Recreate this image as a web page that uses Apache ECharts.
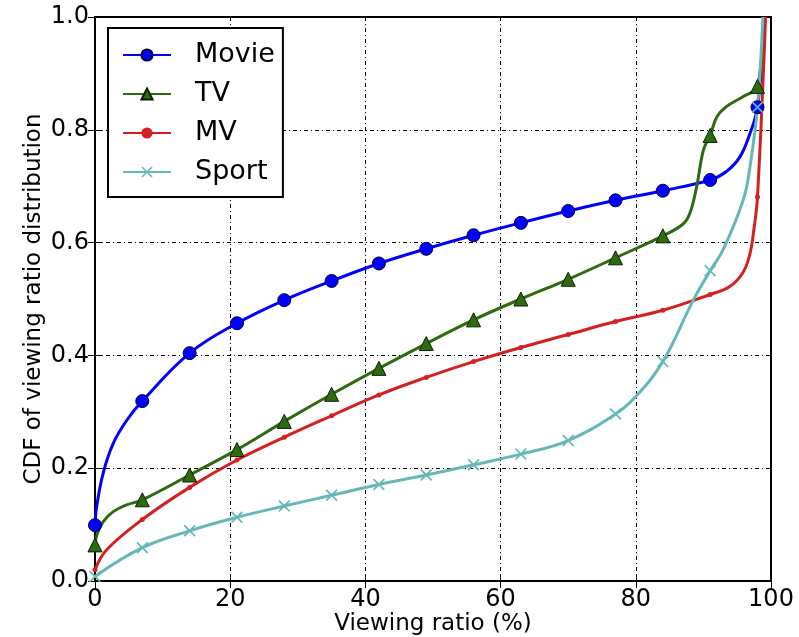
<!DOCTYPE html>
<html>
<head>
<meta charset="utf-8">
<script src="https://cdn.jsdelivr.net/npm/echarts@6/dist/echarts.min.js"></script>
<style>
  html, body { margin: 0; padding: 0; background: #fff; }
  #chart { width: 799px; height: 637px; }
</style>
</head>
<body>
<div id="chart"></div>
<script>
// values (x = viewing ratio %, y = CDF)
var movieX = [0, 0.25, 1.2, 2.7, 4.7, 7, 14, 21, 28, 35, 42, 49, 56, 63, 70, 77, 84, 91, 93.4, 95.4, 96.9, 98, 99.1];
var movieY = [0.099, 0.132, 0.191, 0.244, 0.285, 0.319, 0.404, 0.457, 0.498, 0.532, 0.563, 0.589, 0.613, 0.635, 0.656, 0.675, 0.692, 0.711, 0.726, 0.752, 0.794, 0.84, 1.0];

var tvX = [0, 0.3, 1.2, 2.7, 4.7, 7, 14, 21, 28, 35, 42, 49, 56, 63, 70, 77, 84, 87, 88, 89, 90, 91, 92, 93.4, 95.9, 98, 98.9];
var tvY = [0.064, 0.083, 0.105, 0.123, 0.135, 0.144, 0.188, 0.233, 0.283, 0.331, 0.377, 0.421, 0.463, 0.5, 0.535, 0.573, 0.612, 0.633, 0.652, 0.699, 0.764, 0.79, 0.823, 0.841, 0.859, 0.877, 1.0];

var mvX = [0, 1.7, 7, 14, 21, 28, 35, 42, 49, 56, 63, 70, 77, 84, 91, 93.9, 95.9, 96.9, 97.4, 98, 99.2];
var mvY = [0.02, 0.055, 0.109, 0.166, 0.2145, 0.255, 0.293, 0.33, 0.361, 0.389, 0.414, 0.437, 0.46, 0.48, 0.508, 0.522, 0.548, 0.581, 0.617, 0.681, 1.0];

var sportX = [0, 7, 14, 21, 28, 35, 42, 49, 56, 63, 70, 77, 80, 84, 88.5, 91, 92.9, 95.9, 96.9, 98, 98.8];
var sportY = [0.008, 0.059, 0.089, 0.113, 0.133, 0.152, 0.171, 0.188, 0.206, 0.225, 0.249, 0.296, 0.327, 0.389, 0.498, 0.55, 0.587, 0.676, 0.735, 0.84, 1.0];

var xTicks = [0, 20, 40, 60, 80, 100];
var yTicks = [0.0, 0.2, 0.4, 0.6, 0.8, 1.0];

var xMark = 'path://M0,1L1,0L5,4L9,0L10,1L6,5L10,9L9,10L5,6L1,10L0,9L4,5Z';

// only every 7th % gets a marker, like the original
function pts(xs, ys) {
  var out = [];
  for (var i = 0; i < xs.length; i++) {
    var item = { value: [xs[i], ys[i]] };
    if (xs[i] % 7 !== 0) item.symbol = 'none';
    out.push(item);
  }
  return out;
}

var font = 'DejaVu Sans';
var myChart = echarts.init(document.getElementById('chart'));

function mkSeries(name, xs, ys, color, symbol, size, border) {
  return {
    name: name,
    type: 'line',
    data: pts(xs, ys),
    smooth: 0.4,
    showAllSymbol: true,
    symbol: symbol,
    symbolSize: size,
    lineStyle: { color: color, width: 3 },
    itemStyle: { color: color, borderColor: border, borderWidth: border ? 1 : 0 },
    emphasis: { disabled: true },
    z: 3
  };
}

var gridLine = { show: true, lineStyle: { color: '#000', width: 1, type: [4, 3, 1, 3] } };
var tick = { show: true, inside: true, length: 7, lineStyle: { color: '#000', width: 1 } };

var option = {
  backgroundColor: '#fff',
  animation: false,
  textStyle: { fontFamily: font },
  grid: {
    left: 95, right: 28, top: 17, bottom: 56,
    outerBoundsMode: 'none',
    show: true, borderColor: '#000', borderWidth: 2, backgroundColor: 'transparent'
  },
  legend: {
    orient: 'vertical',
    left: 108,
    top: 28,
    padding: [11, 8, 9, 14],
    itemWidth: 48,
    itemHeight: 14,
    itemGap: 7,
    backgroundColor: '#fff',
    borderColor: '#000',
    borderWidth: 2,
    borderRadius: 0,
    textStyle: { fontFamily: font, fontSize: 27, color: '#000', lineHeight: 32, padding: [0, 0, 0, 19] },
    data: ['Movie', 'TV', 'MV', 'Sport']
  },
  xAxis: [{
    type: 'value',
    min: 0, max: 100, interval: 20,
    name: 'Viewing ratio (%)',
    nameLocation: 'middle',
    nameGap: 32,
    nameMoveOverlap: false,
    nameTextStyle: { fontFamily: font, fontSize: 23, color: '#000' },
    axisLine: { show: false },
    axisTick: tick,
    axisLabel: { fontFamily: font, fontSize: 24, color: '#000', margin: 7, formatter: function (v) { return xTicks.indexOf(v) >= 0 ? String(v) : ''; } },
    splitLine: gridLine
  }, {
    type: 'value', position: 'top',
    min: 0, max: 100, interval: 20,
    axisLine: { show: false }, axisTick: tick, axisLabel: { show: false }, splitLine: { show: false }
  }],
  yAxis: [{
    type: 'value',
    min: 0, max: 1, interval: 0.2,
    name: 'CDF of viewing ratio distribution',
    nameLocation: 'middle',
    nameGap: 49,
    nameMoveOverlap: false,
    nameRotate: 90,
    nameTextStyle: { fontFamily: font, fontSize: 23, color: '#000' },
    axisLine: { show: false },
    axisTick: tick,
    axisLabel: { fontFamily: font, fontSize: 24, color: '#000', margin: 6, formatter: function (v) { return v.toFixed(1); } },
    splitLine: gridLine
  }, {
    type: 'value', position: 'right',
    min: 0, max: 1, interval: 0.2,
    axisLine: { show: false }, axisTick: tick, axisLabel: { show: false }, splitLine: { show: false }
  }],
  series: [
    mkSeries('Movie', movieX, movieY, '#0000ff', 'circle', 13, '#000033'),
    mkSeries('TV', tvX, tvY, '#2e6b10', 'triangle', 14, '#0a2000'),
    mkSeries('MV', mvX, mvY, '#d42020', 'circle', 5, null),
    mkSeries('Sport', sportX, sportY, '#66b8b8', xMark, 12, null)
  ]
};

myChart.setOption(option);
</script>
</body>
</html>
